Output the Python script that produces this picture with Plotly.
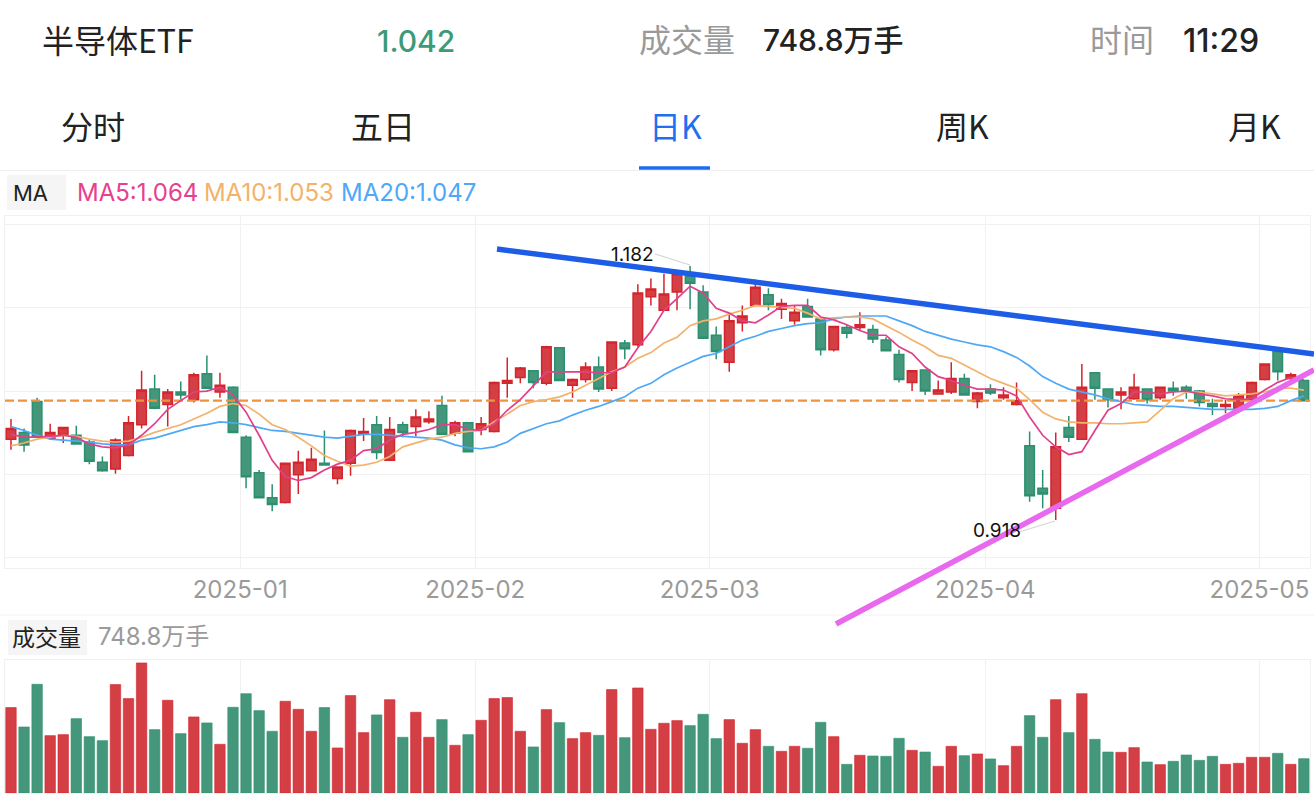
import plotly.graph_objects as go

W, H = 1314, 812

# daily bars (price), red = up, green = down
opens = [1.002, 1.009, 1.041, 1.003, 1.007, 1.006, .999, .978, .971, .985,
         1.017, 1.054, 1.038, 1.051, 1.043, 1.070, 1.051, 1.056, 1.004, .967,
         .941, .936, .965, .969, .977, .961, .977, 1.007, 1.017, .980,
         1.017, 1.015, 1.020, 1.037, 1.008, 1.019, 1.012, 1.010, 1.060, 1.066,
         1.073, 1.060, 1.097, 1.058, 1.064, 1.077, 1.055, 1.102, 1.100, 1.150,
         1.136, 1.155, 1.171, 1.155, 1.110, 1.082, 1.123, 1.141, 1.152, 1.137,
         1.125, 1.140, 1.127, 1.095, 1.118, 1.118, 1.116, 1.105, 1.090, 1.061,
         1.074, 1.049, 1.051, 1.065, 1.041, 1.054, 1.045, 1.038, .995, .951,
         .930, 1.014, 1.002, 1.071, 1.054, 1.048, 1.044, 1.054, 1.045, 1.055,
         1.056, 1.052, 1.039, 1.036, 1.034, 1.043, 1.064, 1.093, 1.065, 1.063]
highs = [1.023, 1.013, 1.045, 1.018, 1.014, 1.016, 1.001, .984, 1.003, 1.026,
         1.073, 1.069, 1.054, 1.062, 1.071, 1.089, 1.071, 1.057, 1.006, .970,
         .955, .977, .990, .993, 1.011, .973, 1.012, 1.024, 1.026, 1.025,
         1.020, 1.033, 1.031, 1.047, 1.021, 1.019, 1.025, 1.062, 1.087, 1.077,
         1.074, 1.099, 1.097, 1.065, 1.082, 1.088, 1.103, 1.105, 1.163, 1.169,
         1.174, 1.175, 1.182, 1.162, 1.119, 1.131, 1.141, 1.168, 1.159, 1.148,
         1.141, 1.148, 1.127, 1.119, 1.121, 1.134, 1.121, 1.108, 1.095, 1.074,
         1.074, 1.063, 1.082, 1.070, 1.051, 1.059, 1.056, 1.061, 1.010, .970,
         1.009, 1.026, 1.080, 1.071, 1.054, 1.056, 1.070, 1.055, 1.056, 1.062,
         1.058, 1.053, 1.044, 1.043, 1.050, 1.062, 1.080, 1.093, 1.071, 1.063]
lows = [.991, .989, 1.004, 1.001, .998, .997, .976, .968, .966, .984,
        1.013, 1.033, 1.015, 1.043, 1.040, 1.055, 1.045, 1.009, .951, .941,
        .927, .935, .945, .969, .975, .955, .964, 1.000, .981, .980,
        1.004, 1.005, 1.018, 1.007, 1.005, .989, 1.006, 1.009, 1.045, 1.060,
        1.055, 1.058, 1.063, 1.045, 1.061, 1.051, 1.052, 1.085, 1.098, 1.141,
        1.136, 1.136, 1.137, 1.106, 1.085, 1.072, 1.114, 1.141, 1.136, 1.127,
        1.121, 1.129, 1.089, 1.093, 1.107, 1.115, 1.102, 1.094, 1.061, 1.052,
        1.048, 1.049, 1.049, 1.048, 1.034, 1.048, 1.043, 1.037, .937, .930,
        .918, .999, 1.002, 1.043, 1.035, 1.033, 1.043, 1.039, 1.043, 1.047,
        1.044, 1.036, 1.027, 1.029, 1.034, 1.040, 1.063, 1.063, 1.063, 1.041]
closes = [1.013, .996, 1.004, 1.009, 1.014, .997, .979, .969, 1.001, 1.019,
          1.053, 1.034, 1.051, 1.048, 1.069, 1.055, 1.058, 1.009, .963, .941,
          .934, .977, .978, .981, .975, .973, 1.011, 1.010, .988, 1.012,
          1.009, 1.025, 1.023, 1.007, 1.019, .989, 1.018, 1.061, 1.063, 1.076,
          1.061, 1.098, 1.063, 1.064, 1.077, 1.054, 1.103, 1.096, 1.154, 1.158,
          1.153, 1.174, 1.164, 1.107, 1.093, 1.125, 1.130, 1.160, 1.142, 1.143,
          1.134, 1.129, 1.095, 1.119, 1.112, 1.121, 1.106, 1.094, 1.064, 1.073,
          1.052, 1.053, 1.065, 1.048, 1.050, 1.050, 1.048, 1.042, .943, .945,
          .994, 1.004, 1.056, 1.055, 1.043, 1.051, 1.056, 1.043, 1.056, 1.052,
          1.052, 1.040, 1.036, 1.038, 1.047, 1.061, 1.080, 1.072, 1.069, 1.042]

ma5 = [1.007, 1.004, 1.004, 1.005, 1.006, 1.004, .997, .994, .993, .996,
       1.006, 1.018, 1.033, 1.042, 1.051, 1.052, 1.056, 1.048, 1.030, 1.006,
       .980, .963, .959, .962, .970, .976, .980, .990, .992, 1.001,
       1.007, 1.009, 1.012, 1.017, 1.017, 1.012, 1.011, 1.018, 1.032, 1.043,
       1.058, 1.072, 1.072, 1.072, 1.072, 1.071, 1.071, 1.077, 1.097, 1.114,
       1.136, 1.148, 1.161, 1.154, 1.138, 1.133, 1.125, 1.123, 1.131, 1.140,
       1.141, 1.141, 1.129, 1.126, 1.121, 1.115, 1.110, 1.110, 1.098, 1.091,
       1.077, 1.067, 1.063, 1.058, 1.054, 1.054, 1.053, 1.047, 1.025, 1.006,
       .994, .986, .989, 1.011, 1.032, 1.039, 1.051, 1.051, 1.049, 1.051,
       1.052, 1.049, 1.047, 1.044, 1.043, 1.044, 1.053, 1.061, 1.066, 1.064]
ma10 = [.995, .998, 1.002, 1.004, 1.006, 1.005, 1.002, 1.000, .999, 1.000,
        1.004, 1.009, 1.013, 1.017, 1.023, 1.029, 1.036, 1.039, 1.037, 1.028,
        1.017, 1.012, 1.004, .995, .985, .979, .974, .975, .978, .984,
        .994, .998, 1.002, 1.004, 1.008, 1.010, 1.011, 1.020, 1.028, 1.037,
        1.041, 1.043, 1.046, 1.051, 1.058, 1.065, 1.072, 1.077, 1.086, 1.092,
        1.102, 1.108, 1.120, 1.125, 1.127, 1.132, 1.136, 1.141, 1.140, 1.139,
        1.138, 1.133, 1.127, 1.128, 1.129, 1.129, 1.127, 1.120, 1.113, 1.105,
        1.098, 1.089, 1.086, 1.079, 1.072, 1.065, 1.060, 1.055, 1.043, 1.030,
        1.023, 1.020, 1.019, 1.019, 1.018, 1.018, 1.019, 1.020, 1.032, 1.044,
        1.051, 1.051, 1.049, 1.047, 1.048, 1.049, 1.051, 1.055, 1.055, 1.053]
ma20 = [1.015, 1.011, 1.006, 1.002, 1.001, 1.000, .999, .997, .996, .996,
        1.001, 1.003, 1.007, 1.011, 1.015, 1.017, 1.020, 1.019, 1.017, 1.014,
        1.011, 1.010, 1.008, 1.006, 1.004, 1.003, 1.005, 1.007, 1.007, 1.006,
        1.005, 1.004, 1.003, 1.001, .996, .993, .992, .994, .999, 1.008,
        1.013, 1.018, 1.021, 1.027, 1.032, 1.036, 1.041, 1.046, 1.055, 1.060,
        1.069, 1.076, 1.082, 1.088, 1.091, 1.098, 1.105, 1.109, 1.114, 1.117,
        1.120, 1.122, 1.123, 1.127, 1.129, 1.130, 1.130, 1.130, 1.125, 1.120,
        1.114, 1.110, 1.106, 1.103, 1.100, 1.098, 1.093, 1.087, 1.078, 1.067,
        1.060, 1.054, 1.051, 1.048, 1.044, 1.041, 1.038, 1.037, 1.036, 1.036,
        1.035, 1.034, 1.033, 1.033, 1.033, 1.033, 1.034, 1.036, 1.042, 1.047]

# volume, in 万手
volumes = [1864, 1441, 2373, 1252, 1274, 1623, 1230, 1143, 2366, 2060,
           2839, 1383, 2024, 1296, 1660, 1529, 1063, 1871, 2169, 1798,
           1347, 2002, 1827, 1347, 1864, 983, 2126, 1318, 1704, 2038,
           1216, 1762, 1216, 1602, 1041, 1274, 1587, 2060, 2082, 1347,
           1005, 1820, 1536, 1187, 1318, 1259, 2257, 1208, 2293, 1390,
           1522, 1580, 1471, 1718, 1187, 1602, 1085, 1383, 1019, 910,
           1019, 976, 1543, 1230, 626, 823, 808, 801, 1194, 932,
           895, 582, 1019, 815, 852, 743, 597, 1019, 1689, 1216,
           2038, 1318, 2169, 1172, 895, 888, 990, 677, 619, 692,
           830, 713, 801, 626, 648, 779, 779, 866, 626, 749]

month_labels = ['2025-01', '2025-02', '2025-03', '2025-04', '2025-05']
month_ticks = [17.55, 35.55, 53.5, 74.6, 95.6]  # gridlines sit between two bars
grid_prices = [1.2247, 1.1384, 1.0511, 0.9648, 0.8785]
last_price = 1.042
high_label, low_label = '1.182', '0.918'

RED, RED_EDGE = '#d33f44', '#d4252c'
GREEN, GREEN_EDGE = '#44977a', '#2c9070'
GRID = '#f1f1f1'
FONT = 'Inter, Noto Sans CJK SC'
CJK = 'Noto Sans CJK SC'
x = list(range(len(closes)))


def py(y):
    # pixel row to paper coordinate
    return 1 - y / H


def label(text, px, y, size, color, anchor='left', family=FONT, weight=400):
    return dict(text=text, x=px / W, y=py(y), xref='paper', yref='paper', xanchor=anchor,
                yanchor='middle', showarrow=False, align=anchor,
                font=dict(family=family, size=size, color=color, weight=weight))


def seg(x0, y0, x1, y1, color, width):
    return dict(type='line', xref='paper', yref='paper', x0=x0 / W, x1=x1 / W, y0=py(y0), y1=py(y1),
                line=dict(color=color, width=width))


def chip(x0, y0, x1, y1):
    return dict(type='rect', xref='paper', yref='paper', x0=x0 / W, x1=x1 / W, y0=py(y0), y1=py(y1),
                fillcolor='#f5f5f5', line=dict(width=0), layer='below')


fig = go.Figure()

# candles
fig.add_trace(go.Candlestick(
    x=x, open=opens, high=highs, low=lows, close=closes,
    increasing=dict(fillcolor=RED, line=dict(color=RED_EDGE, width=1.5)),
    decreasing=dict(fillcolor=GREEN, line=dict(color=GREEN_EDGE, width=1.5)),
    whiskerwidth=0, xaxis='x', yaxis='y'
))

# last price
fig.add_trace(go.Scatter(
    x=[-0.459, 99.47], y=[last_price, last_price], mode='lines',
    line=dict(color='#ed9340', width=2.2, dash='9px,4px'), xaxis='x', yaxis='y'
))

# moving averages
for values, color in [(ma20, '#4fa8f7'), (ma10, '#f3b26c'), (ma5, '#e0408c')]:
    fig.add_trace(go.Scatter(x=x, y=values, mode='lines', line=dict(color=color, width=1.7),
                             xaxis='x', yaxis='y'))

# volume bars
bar_colors = [RED if c >= o else GREEN for o, c in zip(opens, closes)]
edge_colors = [RED_EDGE if c >= o else GREEN_EDGE for o, c in zip(opens, closes)]
fig.add_trace(go.Bar(x=x, y=volumes, width=0.8, marker=dict(color=bar_colors, line=dict(color=edge_colors, width=0.6)),
                     xaxis='x2', yaxis='y2'))

texts = [
    label('半导体ETF', 40, 39, 32, '#222222', family=CJK + ', ' + FONT),
    label('1.042', 416, 41, 30, '#3c9a78', anchor='center', weight=500),
    label('成交量', 637, 38, 32, '#9a9a9a', family=CJK),
    label('748.8万手', 761, 40, 30, '#222222', weight=500),
    label('时间', 1088, 38, 32, '#9a9a9a', family=CJK),
    label('11:29', 1181, 41, 32, '#222222', weight=500),
    label('分时', 93, 125, 32, '#222222', anchor='center', family=CJK),
    label('五日', 383, 125, 32, '#222222', anchor='center', family=CJK),
    label('日K', 675, 125, 32, '#1f6ff0', anchor='center', family=CJK),
    label('周K', 962, 125, 32, '#222222', anchor='center', family=CJK),
    label('月K', 1254, 125, 32, '#222222', anchor='center', family=CJK),
    label('MA', 11, 193, 22, '#222222'),
    label('MA5:1.064', 75, 193, 24, '#e6408f'),
    label('MA10:1.053', 202, 193, 24, '#f3b26c'),
    label('MA20:1.047', 339, 193, 24, '#4fa8f7'),
    label(high_label, 632, 254, 19, '#111111', anchor='center'),
    label(low_label, 997, 530, 19, '#111111', anchor='center'),
    label('成交量', 10, 636, 23, '#222222', family=CJK),
    label('748.8万手', 96, 636, 24, '#9a9a9a'),
]

shapes = [
    chip(7, 175, 66, 210),
    chip(8, 620, 87, 655),
    seg(0, 170.5, W, 170.5, '#eeeeee', 1),
    seg(0, 615, W, 615, '#f2f2f2', 1),
    seg(639, 168, 710, 168, '#1a6cf0', 3.5),
    # leader lines of the high / low labels
    seg(655, 254, 690, 265, '#d5d5d5', 1.3),
    seg(1019, 532, 1055, 521, '#d5d5d5', 1.3),
    # trend lines drawn by hand on top of the chart
    seg(497, 249, W, 354, '#1d5ce6', 5.5),
    seg(836, 624, W, 370, '#e868ee', 5.5),
]

axis_x = dict(range=[-0.459, 99.47], domain=[5 / W, 1310 / W], tickvals=month_ticks, ticktext=month_labels,
              showgrid=True, gridcolor=GRID, gridwidth=1, zeroline=False, rangeslider=dict(visible=False),
              showline=True, mirror=True, linecolor=GRID, linewidth=1, ticks='')

fig.update_layout(
    width=W, height=H, margin=dict(l=0, r=0, t=0, b=0), autosize=False,
    paper_bgcolor='white', plot_bgcolor='white', showlegend=False,
    boxgap=0.27, boxgroupgap=0, bargap=0.2,
    xaxis=dict(axis_x, anchor='y', tickfont=dict(family=FONT, size=24, color='#9a9a9a')),
    yaxis=dict(range=[0.868, 1.234], domain=[py(568), py(216)], tickvals=grid_prices, showticklabels=False,
               showgrid=True, gridcolor=GRID, zeroline=False, showline=True, mirror=True, linecolor=GRID),
    xaxis2=dict(axis_x, anchor='y2', showticklabels=False),
    yaxis2=dict(range=[0, 2903], domain=[py(793), py(660)], showticklabels=False, showgrid=False,
                zeroline=False, showline=True, mirror=True, linecolor=GRID),
    annotations=texts,
    shapes=shapes,
)

fig.write_html("out.html", config=dict(displayModeBar=False), post_script="document.body.style.margin='0'")
